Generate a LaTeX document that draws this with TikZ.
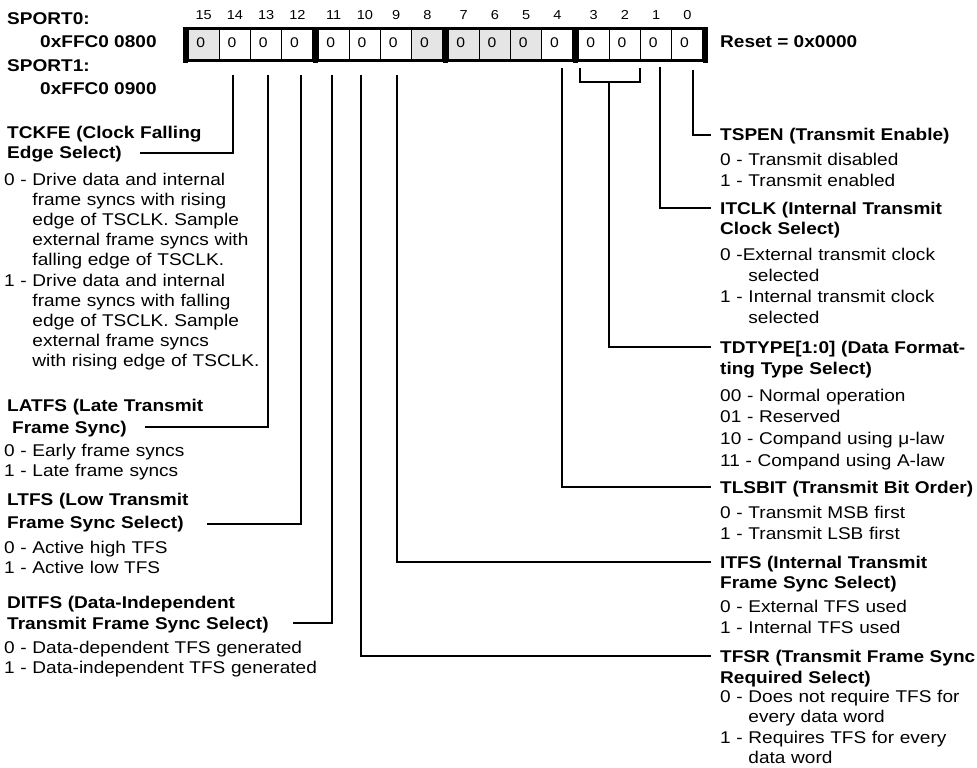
\documentclass[tikz,border=0pt]{standalone}
\usepackage{fontspec}
\setmainfont{Liberation Sans}[FakeStretch=1.12]
\newcommand\ind{\phantom{0 - }}
\definecolor{cg}{gray}{0.9}
\begin{document}
\begin{tikzpicture}[x=1pt,y=-1pt,
  ttl/.style={anchor=base west,inner sep=0pt,text width=420pt,align=left,font=\fontsize{17}{21}\selectfont\bfseries},
  itm/.style={anchor=base west,inner sep=0pt,text width=420pt,align=left,font=\fontsize{17}{21.3}\selectfont},
  itml/.style={anchor=base west,inner sep=0pt,text width=420pt,align=left,font=\fontsize{17}{20.2}\selectfont},
  conn/.style={line width=1.8pt},
  cell/.style={rectangle,draw,line width=1.2pt,minimum width=31.25pt,minimum height=32pt,inner sep=0pt},
  bitnum/.style={anchor=base,inner sep=0pt,font=\fontsize{13}{15}\selectfont},
  zero/.style={anchor=base,inner sep=0pt,font=\fontsize{14}{16}\selectfont},
  hdr/.style={anchor=base west,inner sep=0pt,font=\fontsize{17}{20}\selectfont\bfseries},
]
\useasboundingbox (0,0) rectangle (977,768);

% register cells
\foreach \b/\col in {15/cg,14/white,13/white,12/white,11/white,10/white,9/white,8/cg,7/cg,6/cg,5/cg,4/white,3/white,2/white,1/white,0/white}{
  \pgfmathsetmacro\cx{188+130*int((15-\b)/4)+31.25*mod(15-\b,4)+15.625}
  \node[cell,fill=\col] (c\b) at (\cx,44.5) {};
  \node[zero] (z\b) at (\cx-3,48) {0};
  \node[bitnum] (n\b) at (\cx,20) {\b};
}
% outer frame
\draw[line width=3pt] (183,28.5) -- (708,28.5);
\draw[line width=3pt] (183,60.5) -- (708,60.5);
\foreach \xx in {183,313,443,573,703}{
  \fill (\xx,27) rectangle (\xx+5,63);
}

% header labels
\node[hdr] (sp0) at (7,25) {SPORT0:};
\node[hdr] (a0) at (40,48) {0xFFC0 0800};
\node[hdr] (sp1) at (7,71) {SPORT1:};
\node[hdr] (a1) at (40,94) {0xFFC0 0900};
\node[hdr] (rst) at (720,48) {Reset = 0x0000};

% left descriptions
\node[ttl,font=\fontsize{17}{20}\selectfont\bfseries] (tckfe) at (7,138) {TCKFE (Clock Falling\\Edge Select)};
\node[itml] (tckfei) at (4,185) {0 - Drive data and internal\\\ind frame syncs with rising\\\ind edge of TSCLK. Sample\\\ind external frame syncs with\\\ind falling edge of TSCLK.\\1 - Drive data and internal\\\ind frame syncs with falling\\\ind edge of TSCLK. Sample\\\ind external frame syncs\\\ind with rising edge of TSCLK.};

\node[ttl,font=\fontsize{17}{22}\selectfont\bfseries] (latfs) at (7,411) {LATFS (Late Transmit\\\hspace*{5pt}Frame Sync)};
\node[itml] (latfsi) at (4,456) {0 - Early frame syncs\\1 - Late frame syncs};

\node[ttl,font=\fontsize{17}{23}\selectfont\bfseries] (ltfs) at (7,505) {LTFS (Low Transmit\\Frame Sync Select)};
\node[itml] (ltfsi) at (4,553) {0 - Active high TFS\\1 - Active low TFS};

\node[ttl] (ditfs) at (7,608) {DITFS (Data-Independent\\Transmit Frame Sync Select)};
\node[itml] (ditfsi) at (4,653) {0 - Data-dependent TFS generated\\1 - Data-independent TFS generated};

% right descriptions
\node[ttl] (tspen) at (720,140) {TSPEN (Transmit Enable)};
\node[itm] (tspeni) at (720,165) {0 - Transmit disabled\\1 - Transmit enabled};

\node[ttl,font=\fontsize{17}{20}\selectfont\bfseries] (itclk) at (720,214) {ITCLK (Internal Transmit\\Clock Select)};
\node[itm] (itclki) at (720,260) {0 -External transmit clock\\\ind selected\\1 - Internal transmit clock\\\ind selected};

\node[ttl] (tdtype) at (720,353) {TDTYPE[1:0] (Data Format-\\ting Type Select)};
\node[itm,font=\fontsize{17}{21.7}\selectfont] (tdtypei) at (720,401) {00 - Normal operation\\01 - Reserved\\10 - Compand using μ-law\\11 - Compand using A-law};

\node[ttl] (tlsbit) at (720,493) {TLSBIT (Transmit Bit Order)};
\node[itm] (tlsbiti) at (720,518) {0 - Transmit MSB first\\1 - Transmit LSB first};

\node[ttl,font=\fontsize{17}{20}\selectfont\bfseries] (itfs) at (720,568) {ITFS (Internal Transmit\\Frame Sync Select)};
\node[itm] (itfsi) at (720,612) {0 - External TFS used\\1 - Internal TFS used};

\node[ttl] (tfsr) at (720,662) {TFSR (Transmit Frame Sync\\Required Select)};
\node[itm,font=\fontsize{17}{20.6}\selectfont] (tfsri) at (720,702) {0 - Does not require TFS for\\\ind every data word\\1 - Requires TFS for every\\\ind data word};

% connector coordinates
\coordinate (s14) at (233,75);  \coordinate (e14) at (140,153);
\coordinate (s13) at (268,75);  \coordinate (e13) at (145,427);
\coordinate (s12) at (301,75);  \coordinate (e12) at (207,524);
\coordinate (s11) at (332,75);  \coordinate (e11) at (293,623);
\coordinate (s10) at (361,75);  \coordinate (e10) at (711,656);
\coordinate (s9)  at (397,75);  \coordinate (e9)  at (711,562);
\coordinate (s4)  at (562,68);  \coordinate (e4)  at (711,487);
\coordinate (s3)  at (580,68);  \coordinate (s2)  at (640,68);
\coordinate (bm)  at (609,82);  \coordinate (e32) at (711,347);
\coordinate (s1)  at (660,67);  \coordinate (e1)  at (711,208);
\coordinate (s0)  at (693,70);  \coordinate (e0)  at (711,135);

\draw[conn] (s14) |- (e14);
\draw[conn] (s13) |- (e13);
\draw[conn] (s12) |- (e12);
\draw[conn] (s11) |- (e11);
\draw[conn] (s10) |- (e10);
\draw[conn] (s9)  |- (e9);
\draw[conn] (s4)  |- (e4);
\draw[conn] (s3)  |- (bm) -| (s2);
\draw[conn] (bm)  |- (e32);
\draw[conn] (s1)  |- (e1);
\draw[conn] (s0)  |- (e0);
\end{tikzpicture}
\end{document}
